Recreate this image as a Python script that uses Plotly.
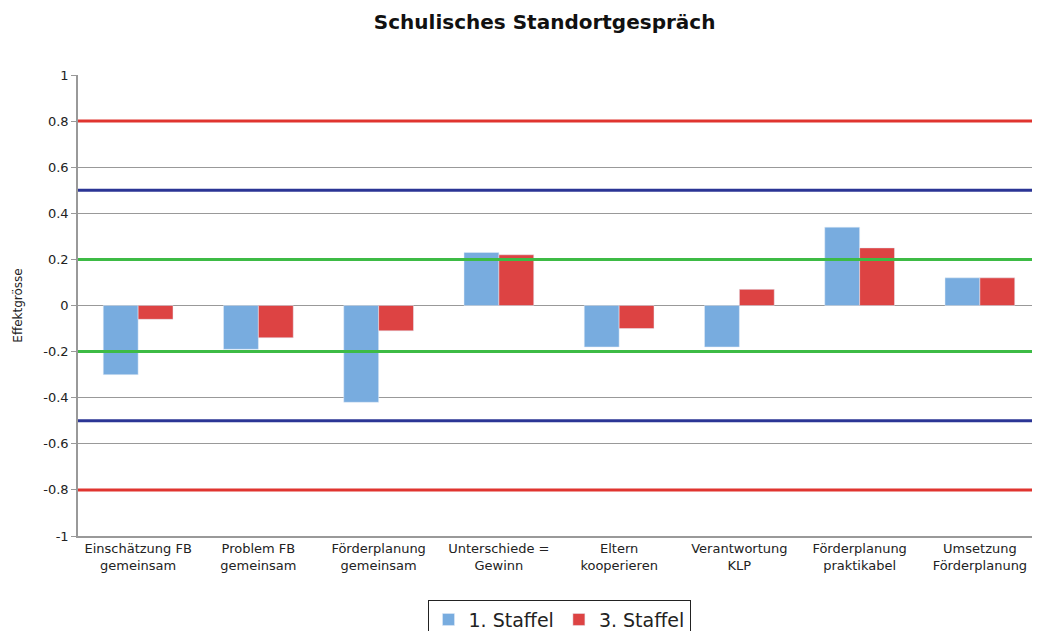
import plotly.graph_objects as go

categories = [
    "Einschätzung FB<br>gemeinsam",
    "Problem FB<br>gemeinsam",
    "Förderplanung<br>gemeinsam",
    "Unterschiede =<br>Gewinn",
    "Eltern<br>kooperieren",
    "Verantwortung<br>KLP",
    "Förderplanung<br>praktikabel",
    "Umsetzung<br>Förderplanung",
]
staffel_1 = [-0.30, -0.19, -0.42, 0.23, -0.18, -0.18, 0.34, 0.12]
staffel_3 = [-0.06, -0.14, -0.11, 0.22, -0.10, 0.07, 0.25, 0.12]

y_ticks = [-1, -0.8, -0.6, -0.4, -0.2, 0, 0.2, 0.4, 0.6, 0.8, 1]
y_tick_labels = ["-1", "-0.8", "-0.6", "-0.4", "-0.2", "0", "0.2", "0.4", "0.6", "0.8", "1"]

# reference lines for effect size thresholds
ref_levels = [0.8, 0.5, 0.2, -0.2, -0.5, -0.8]
ref_colors = ["#e0342f", "#2b3595", "#3dbb45", "#3dbb45", "#2b3595", "#e0342f"]

font = "DejaVu Sans, Verdana, sans-serif"

fig = go.Figure()
fig.add_trace(go.Bar(name="1. Staffel", x=categories, y=staffel_1, marker_color="#78acdf"))
fig.add_trace(go.Bar(name="3. Staffel", x=categories, y=staffel_3, marker_color="#dd4343"))

for lvl, col in zip(ref_levels, ref_colors):
    fig.add_shape(type="line", xref="paper", x0=0, x1=1, yref="y", y0=lvl, y1=lvl,
                  line={"color": col, "width": 3}, layer="above")

# page body has an 8px margin, so the figure is shifted; margins account for it
fig.update_layout(
    width=1040, height=631,
    paper_bgcolor="white", plot_bgcolor="white",
    margin={"l": 70, "r": 8, "t": 67, "b": 103, "autoexpand": False},
    barmode="group", bargap=0.42, bargroupgap=0,
    font={"family": font, "color": "#222222", "size": 13},
    title={"text": "<b>Schulisches Standortgespräch</b>", "x": 0.516, "xanchor": "center",
           "y": 0.978, "yanchor": "middle", "font": {"size": 20, "color": "#111111"}},
    showlegend=True,
    legend={"orientation": "h", "x": 0.5, "xanchor": "center", "y": -0.138, "yanchor": "top",
            "bordercolor": "#222222", "borderwidth": 1, "font": {"size": 19},
            "itemwidth": 30, "traceorder": "normal"},
    xaxis={"showline": True, "linecolor": "#999999", "linewidth": 1.5, "mirror": False,
           "ticks": "", "tickfont": {"size": 13}, "showgrid": False, "automargin": False},
    yaxis={"range": [-1, 1], "tickvals": y_ticks, "ticktext": y_tick_labels,
           "showgrid": True, "gridcolor": "#999999",
           "gridwidth": 1, "zeroline": True, "zerolinecolor": "#999999", "zerolinewidth": 1,
           "showline": True, "linecolor": "#999999", "linewidth": 1.5,
           "ticks": "outside", "ticklen": 5, "tickcolor": "#999999",
           "tickfont": {"size": 13}, "automargin": False,
           "title": {"text": "Effektgrösse", "font": {"size": 12}, "standoff": 18}},
)

fig.write_html("out.html")
